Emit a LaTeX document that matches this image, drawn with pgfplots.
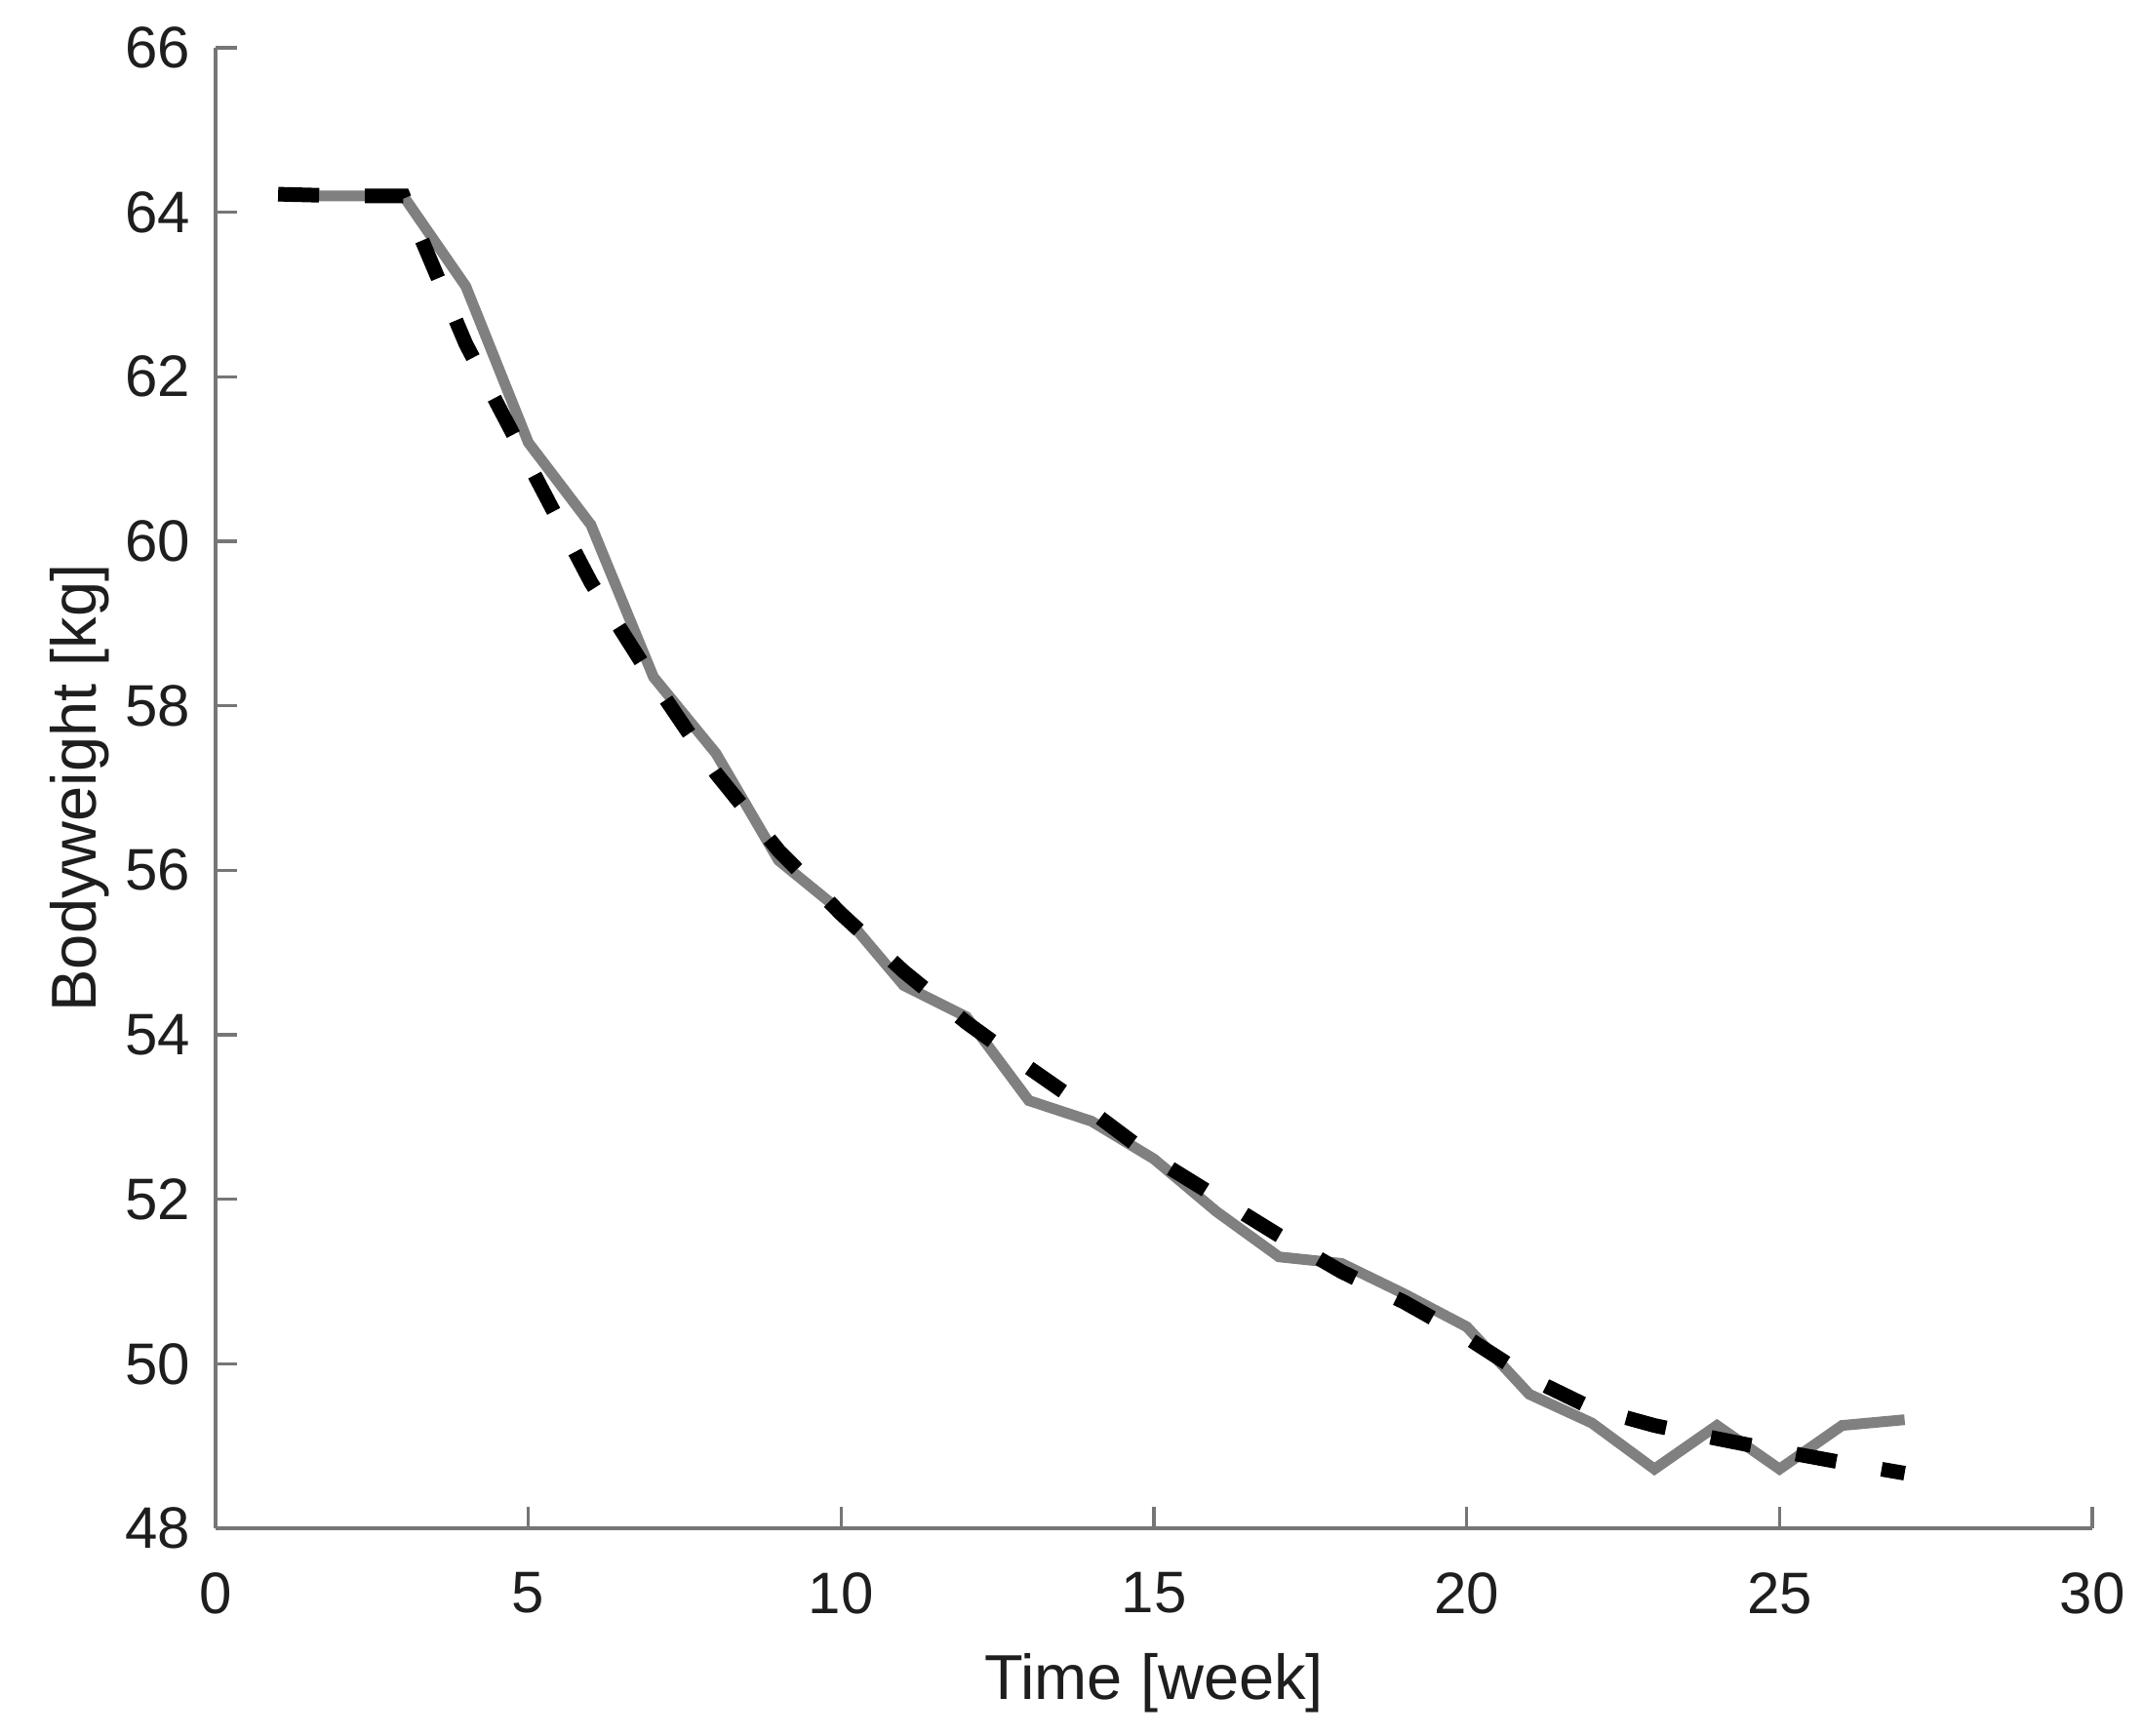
\documentclass[border=0pt]{standalone}
\usepackage{fontspec}
\setmainfont{Liberation Sans}
\usepackage{pgfplots}
\pgfplotsset{compat=1.18}
\definecolor{axgray}{RGB}{118,118,118}
\definecolor{linegray}{RGB}{128,128,128}
\definecolor{txt}{RGB}{30,30,30}
\begin{document}
\begin{tikzpicture}
\begin{axis}[
  name=ax,
  scale only axis,
  width=384.8pt, height=303.6pt,
  xmin=0, xmax=30, ymin=48, ymax=66,
  xtick={0,5,...,30}, ytick={48,50,...,66},
  axis x line*=bottom, axis y line*=left,
  axis line style={axgray, line width=0.7pt, -},
  tick style={axgray, line width=0.7pt},
  major tick length=4.4pt,
  tick align=inside,
  /pgf/number format/assume math mode=true,
  ticklabel style={font=\fontsize{12}{14}\selectfont, text=txt},
  xticklabel style={yshift=-5.5pt},
  yticklabel style={xshift=-1.6pt},
  xlabel={Time [week]},
  ylabel={Bodyweight [kg]},
  label style={font=\fontsize{13}{15}\selectfont, text=txt},
  xlabel style={at={(axis description cs:0.5,0)}, anchor=base, yshift=-35pt},
  ylabel style={at={([xshift=-27.8pt]axis description cs:0,0.5)}, anchor=center},
  clip=false,
]
\addplot[linegray, line width=2.2pt] coordinates {
(1,64.2) (2,64.2) (3,64.2) (4,63.1) (5,61.2) (6,60.2) (7,58.35) (8,57.42)
(9,56.12) (10,55.5) (11,54.6) (12,54.22) (13,53.2) (14,52.95) (15,52.49)
(16,51.85) (17,51.3) (18,51.22) (19,50.85) (20,50.45) (21,49.63) (22,49.28)
(23,48.72) (24,49.25) (25,48.72) (26,49.25) (27,49.32)
};
\addplot[black, line width=3.0pt, line cap=butt, dash pattern=on 8.4pt off 9.4pt] coordinates {
(1,64.22) (2,64.2) (3,64.2) (4,62.4) (5,60.95) (6,59.5) (7,58.3) (8,57.18)
(9,56.24) (10,55.47) (11,54.77) (12,54.15) (13,53.6) (14,53.07) (15,52.5)
(16,52.03) (17,51.56) (18,51.12) (19,50.75) (20,50.32) (21,49.83) (22,49.46)
(23,49.25) (24,49.09) (25,48.94) (26,48.8) (27,48.67)
};
\end{axis}
\pgfresetboundingbox
\path ([xshift=-44.2pt,yshift=-42.4pt]ax.south west) rectangle ([xshift=10.4pt,yshift=9.8pt]ax.north east);
\end{tikzpicture}
\end{document}
